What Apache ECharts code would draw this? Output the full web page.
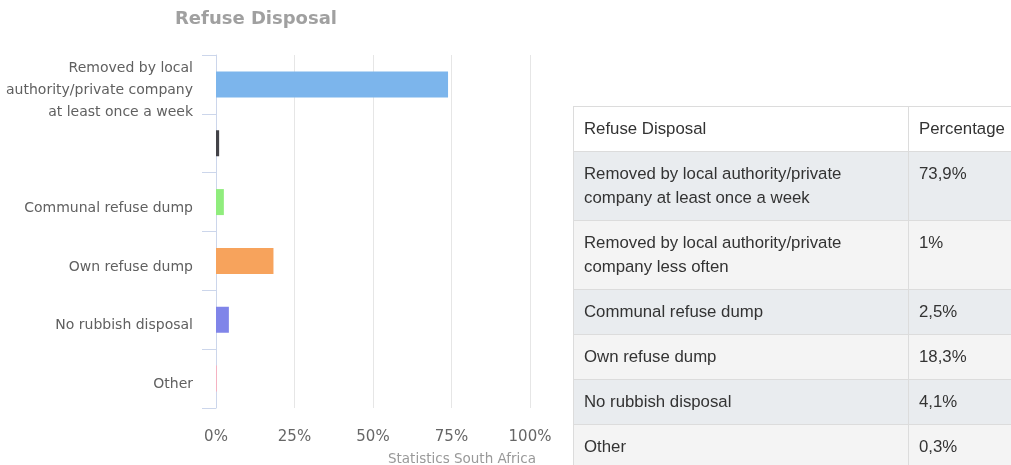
<!DOCTYPE html>
<html>
<head>
<meta charset="utf-8">
<script src="https://cdn.jsdelivr.net/npm/echarts@6/dist/echarts.min.js"></script>
<style>
  html, body { margin: 0; padding: 0; width: 1011px; height: 465px; overflow: hidden; background: #fff; }
  #chart { position: absolute; left: 0; top: 0; width: 1011px; height: 465px; }
  #wrap { position: absolute; left: 573px; top: 106px; width: 438px; height: 359px; overflow: hidden; }
  #tbl { border-collapse: collapse; table-layout: fixed; width: 520px;
         font-family: "Liberation Sans", Arial, sans-serif; font-size: 16.8px; color: #333; }
  #tbl td, #tbl th { border: 1px solid #dcdcdc; padding: 10px 9px 10px 10px; line-height: 24px;
         vertical-align: top; text-align: left; font-weight: normal; overflow: hidden; white-space: nowrap; }
  #tbl th { background: #ffffff; }
  #tbl tr:nth-child(even) td { background: #e9ecef; }
  #tbl tr:nth-child(odd) td { background: #f4f4f4; }
  #tbl col.c1 { width: 335px; }
  #tbl col.c2 { width: 185px; }
</style>
</head>
<body>
<div id="chart"></div>
<div id="wrap"><table id="tbl"></table></div>
<script>
// ---- data ----
const title = "Refuse Disposal";
const credits = "Statistics South Africa";
const categories = [
  "Removed by local authority/private company at least once a week",
  "Removed by local authority/private company less often",
  "Communal refuse dump",
  "Own refuse dump",
  "No rubbish disposal",
  "Other"
];
const axisLabels = [
  "Removed by local\nauthority/private company\nat least once a week",
  "",
  "Communal refuse dump",
  "Own refuse dump",
  "No rubbish disposal",
  "Other"
];
const tableLabels = [
  "Removed by local authority/private<br>company at least once a week",
  "Removed by local authority/private<br>company less often",
  "Communal refuse dump",
  "Own refuse dump",
  "No rubbish disposal",
  "Other"
];
const values = [73.9, 1, 2.5, 18.3, 4.1, 0.3];
const barColors = ["#7cb5ec", "#434348", "#90ed7d", "#f7a35c", "#8085e9", "#f8b0c0"];
const xTicks = [0, 25, 50, 75, 100];
const tableHeader = ["Refuse Disposal", "Percentage"];

// ---- table ----
const tbl = document.getElementById('tbl');
let html = '<colgroup><col class="c1"><col class="c2"></colgroup>';
html += '<tr><th>' + tableHeader[0] + '</th><th>' + tableHeader[1] + '</th></tr>';
for (let i = 0; i < categories.length; i++) {
  html += '<tr><td>' + tableLabels[i] + '</td><td>' +
          String(values[i]).replace('.', ',') + '%</td></tr>';
}
tbl.innerHTML = html;

// ---- chart ----
const chart = echarts.init(document.getElementById('chart'), null, { renderer: 'canvas' });
const font = '"DejaVu Sans", Verdana, sans-serif';
chart.setOption({
  animation: false,
  textStyle: { fontFamily: font },
  grid: { left: 216, right: 481, top: 55, bottom: 57, containLabel: false },
  xAxis: {
    type: 'value',
    min: xTicks[0], max: xTicks[xTicks.length - 1], interval: xTicks[1] - xTicks[0],
    axisLine: { show: false },
    axisTick: { show: false },
    splitLine: { show: true, lineStyle: { color: '#e6e6e6', width: 1 } },
    axisLabel: { formatter: '{value}%', fontSize: 15, color: '#666', margin: 22, fontFamily: font }
  },
  yAxis: {
    type: 'category',
    inverse: true,
    data: axisLabels,
    axisLine: { show: true, lineStyle: { color: '#ccd6eb', width: 1 } },
    axisTick: { show: true, length: 14, lineStyle: { color: '#ccd6eb', width: 1 } },
    splitLine: { show: false },
    axisLabel: {
      interval: 0, fontSize: 14, color: '#606060', lineHeight: 22, margin: 23,
      fontFamily: font, align: 'right',
      formatter: v => v ? '{s| }\n' + v : '',
      rich: { s: { lineHeight: 12, fontSize: 4 } }
    }
  },
  series: [{
    type: 'bar',
    barWidth: 26,
    data: values.map((v, i) => ({ value: v, itemStyle: { color: barColors[i] } }))
  }],
  graphic: [
    { type: 'text', x: 256, y: 19, z: 10,
      style: { text: title, fill: '#a0a0a0', font: 'bold 18px ' + font, textAlign: 'center', textVerticalAlign: 'middle' } },
    { type: 'text', x: 462, y: 459, z: 10,
      style: { text: credits, fill: '#999', font: '13.5px ' + font, textAlign: 'center', textVerticalAlign: 'middle' } }
  ]
});
</script>
</body>
</html>
